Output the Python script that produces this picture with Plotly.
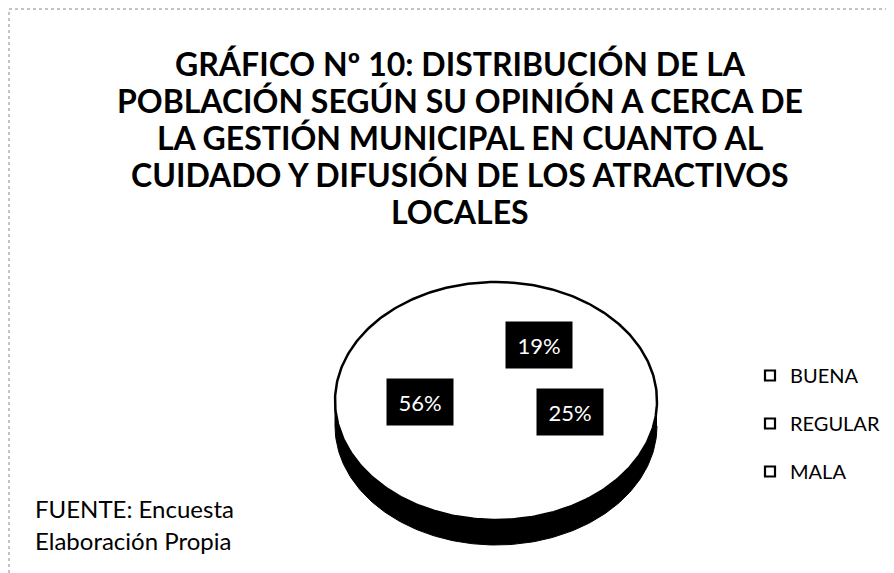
import math
import plotly.graph_objects as go

# ---- data ----
categories = ["BUENA", "REGULAR", "MALA"]
values = [19, 25, 56]
title_lines = [
    "GRÁFICO Nº 10: DISTRIBUCIÓN DE LA",
    "POBLACIÓN SEGÚN SU OPINIÓN A CERCA DE",
    "LA GESTIÓN MUNICIPAL EN CUANTO AL",
    "CUIDADO Y DIFUSIÓN DE LOS ATRACTIVOS",
    "LOCALES",
]
source_lines = ["FUENTE: Encuesta", "Elaboración Propia"]

# ---- layout / style parameters ----
PAGE_W, PAGE_H = 894, 573
OFF = 8                                # browser body margin
CX, CY, RX, RY = 496, 401, 161, 119    # ellipse geometry (page pixels)
DEPTH = 25
label_rx = [0.475, 0.50, 0.48]
label_ry = [0.57, 0.233, 0.045]
FONT = "Lato"

fig = go.Figure()

def pt(theta_deg, rx=1.0, ry=None, dy=0.0):
    if ry is None:
        ry = rx
    t = math.radians(theta_deg)
    return CX + RX * rx * math.sin(t), CY - RY * ry * math.cos(t) + dy

# 3D side (dark band below the top face)
side_x, side_y = [], []
for i in range(0, 181):
    x, y = pt(90 + i)
    side_x.append(x); side_y.append(y)
for i in range(180, -1, -1):
    x, y = pt(90 + i, dy=DEPTH)
    side_x.append(x); side_y.append(y)
fig.add_trace(go.Scatter(x=side_x, y=side_y, fill="toself", mode="lines",
                         fillcolor="black", line=dict(color="black", width=1),
                         showlegend=False, hoverinfo="skip"))

# top-face slices computed from the values
total = sum(values)
start = 0.0
mids = []
for cat, v in zip(categories, values):
    span = 360.0 * v / total
    xs, ys = [CX], [CY]
    n = max(int(span), 2)
    for i in range(n + 1):
        x, y = pt(start + span * i / n)
        xs.append(x); ys.append(y)
    xs.append(CX); ys.append(CY)
    fig.add_trace(go.Scatter(x=xs, y=ys, fill="toself", mode="lines",
                             fillcolor="white", line=dict(color="white", width=0.5),
                             name=cat, legendgroup=cat, showlegend=False,
                             hovertext=f"{cat}: {v}%", hoverinfo="text"))
    mids.append(start + span / 2)
    start += span

# outline of top face
ox, oy = [], []
for i in range(0, 361):
    x, y = pt(i)
    ox.append(x); oy.append(y)
fig.add_trace(go.Scatter(x=ox, y=oy, mode="lines", line=dict(color="black", width=2.5),
                         showlegend=False, hoverinfo="skip"))

# legend entries
for cat in categories:
    fig.add_trace(go.Scatter(x=[None], y=[None], mode="markers", name=cat, legendgroup=cat,
                             marker=dict(symbol="square", size=10, color="white",
                                         line=dict(color="black", width=2.2))))

# data labels
for cat, v, m, fx, fy in zip(categories, values, mids, label_rx, label_ry):
    x, y = pt(m, fx, fy)
    fig.add_annotation(x=x, y=y, xref="x", yref="y", text=f"{v}%", showarrow=False,
                       font=dict(family=FONT, size=22, color="white"),
                       bgcolor="black", width=50, height=30, borderpad=8)

# title lines
title_y = [63, 100, 137, 174, 211]
for line, ty in zip(title_lines, title_y):
    fig.add_annotation(x=460, y=ty, xref="x", yref="y", text=f"<b>{line}</b>",
                       showarrow=False, font=dict(family=FONT, size=32, color="black"))

# source lines
source_y = [508, 540]
for line, sy in zip(source_lines, source_y):
    fig.add_annotation(x=33, y=sy, xref="x", yref="y", text=line, xanchor="left",
                       showarrow=False, font=dict(family=FONT, size=24, color="black"))

# scanned page border
fig.add_shape(type="rect", x0=9, y0=9, x1=891, y1=600, xref="x", yref="y",
              line=dict(color="#888", width=1, dash="dot"))

fig.update_layout(
    width=PAGE_W - OFF, height=PAGE_H - OFF, margin=dict(l=0, r=0, t=0, b=0),
    paper_bgcolor="white", plot_bgcolor="white",
    xaxis=dict(range=[OFF, PAGE_W], visible=False, fixedrange=True),
    yaxis=dict(range=[PAGE_H, OFF], visible=False, fixedrange=True),
    showlegend=True,
    legend=dict(x=(750 - OFF) / (PAGE_W - OFF), y=1 - (356 - OFF) / (PAGE_H - OFF),
                xanchor="left", yanchor="top",
                font=dict(family=FONT, size=20, color="black"),
                tracegroupgap=19, traceorder="grouped", itemwidth=30,
                bgcolor="rgba(0,0,0,0)"),
)

fig.write_html("out.html")
